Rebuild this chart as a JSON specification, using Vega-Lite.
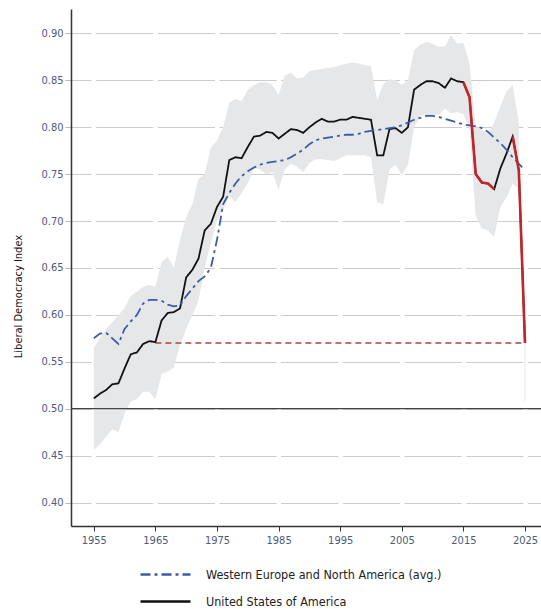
{
  "$schema": "https://vega.github.io/schema/vega-lite/v6.json",
  "width": 470,
  "height": 517,
  "autosize": {"type": "none"},
  "padding": {"left": 71, "top": 9, "right": 0, "bottom": 83},
  "background": "white",
  "config": {
    "view": {"stroke": null},
    "font": "DejaVu Sans Condensed"
  },
  "datasets": {
    "band": [
      {"year": 1955, "lo": 0.456, "hi": 0.565},
      {"year": 1956, "lo": 0.462, "hi": 0.575},
      {"year": 1957, "lo": 0.470, "hi": 0.585},
      {"year": 1958, "lo": 0.478, "hi": 0.592},
      {"year": 1959, "lo": 0.475, "hi": 0.600},
      {"year": 1960, "lo": 0.495, "hi": 0.607},
      {"year": 1961, "lo": 0.508, "hi": 0.620},
      {"year": 1962, "lo": 0.510, "hi": 0.625},
      {"year": 1963, "lo": 0.518, "hi": 0.630},
      {"year": 1964, "lo": 0.518, "hi": 0.632},
      {"year": 1965, "lo": 0.510, "hi": 0.630},
      {"year": 1966, "lo": 0.537, "hi": 0.656},
      {"year": 1967, "lo": 0.540, "hi": 0.662},
      {"year": 1968, "lo": 0.544, "hi": 0.650},
      {"year": 1969, "lo": 0.568, "hi": 0.680},
      {"year": 1970, "lo": 0.585, "hi": 0.704},
      {"year": 1971, "lo": 0.600, "hi": 0.718},
      {"year": 1972, "lo": 0.615, "hi": 0.745},
      {"year": 1973, "lo": 0.650, "hi": 0.750},
      {"year": 1974, "lo": 0.677, "hi": 0.778},
      {"year": 1975, "lo": 0.700, "hi": 0.786},
      {"year": 1976, "lo": 0.712, "hi": 0.800},
      {"year": 1977, "lo": 0.727, "hi": 0.826},
      {"year": 1978, "lo": 0.720, "hi": 0.830},
      {"year": 1979, "lo": 0.730, "hi": 0.828},
      {"year": 1980, "lo": 0.740, "hi": 0.840},
      {"year": 1981, "lo": 0.757, "hi": 0.845},
      {"year": 1982, "lo": 0.755, "hi": 0.848},
      {"year": 1983, "lo": 0.750, "hi": 0.848},
      {"year": 1984, "lo": 0.752, "hi": 0.845},
      {"year": 1985, "lo": 0.733, "hi": 0.834},
      {"year": 1986, "lo": 0.755, "hi": 0.855},
      {"year": 1987, "lo": 0.761, "hi": 0.858},
      {"year": 1988, "lo": 0.758, "hi": 0.852},
      {"year": 1989, "lo": 0.752, "hi": 0.853},
      {"year": 1990, "lo": 0.762, "hi": 0.860},
      {"year": 1991, "lo": 0.766, "hi": 0.861},
      {"year": 1992, "lo": 0.766, "hi": 0.862},
      {"year": 1993, "lo": 0.765, "hi": 0.863},
      {"year": 1994, "lo": 0.764, "hi": 0.864},
      {"year": 1995, "lo": 0.767, "hi": 0.866},
      {"year": 1996, "lo": 0.770, "hi": 0.868},
      {"year": 1997, "lo": 0.770, "hi": 0.869},
      {"year": 1998, "lo": 0.770, "hi": 0.868},
      {"year": 1999, "lo": 0.770, "hi": 0.866},
      {"year": 2000, "lo": 0.768, "hi": 0.865},
      {"year": 2001, "lo": 0.720, "hi": 0.829},
      {"year": 2002, "lo": 0.718, "hi": 0.846},
      {"year": 2003, "lo": 0.755, "hi": 0.851},
      {"year": 2004, "lo": 0.760, "hi": 0.850},
      {"year": 2005, "lo": 0.749, "hi": 0.845},
      {"year": 2006, "lo": 0.760, "hi": 0.850},
      {"year": 2007, "lo": 0.800, "hi": 0.882},
      {"year": 2008, "lo": 0.812, "hi": 0.888},
      {"year": 2009, "lo": 0.813, "hi": 0.891},
      {"year": 2010, "lo": 0.813, "hi": 0.889},
      {"year": 2011, "lo": 0.813, "hi": 0.886},
      {"year": 2012, "lo": 0.820, "hi": 0.886},
      {"year": 2013, "lo": 0.815, "hi": 0.898},
      {"year": 2014, "lo": 0.816, "hi": 0.889},
      {"year": 2015, "lo": 0.814, "hi": 0.890},
      {"year": 2016, "lo": 0.798, "hi": 0.868},
      {"year": 2017, "lo": 0.705, "hi": 0.800},
      {"year": 2018, "lo": 0.692, "hi": 0.797},
      {"year": 2019, "lo": 0.690, "hi": 0.793},
      {"year": 2020, "lo": 0.683, "hi": 0.805},
      {"year": 2021, "lo": 0.715, "hi": 0.822},
      {"year": 2022, "lo": 0.725, "hi": 0.838},
      {"year": 2023, "lo": 0.740, "hi": 0.845},
      {"year": 2024, "lo": 0.735, "hi": 0.805}
    ],
    "lines": [
      {"series": "United States of America", "year": 1955, "value": 0.511},
      {"series": "United States of America", "year": 1956, "value": 0.516},
      {"series": "United States of America", "year": 1957, "value": 0.520},
      {"series": "United States of America", "year": 1958, "value": 0.526},
      {"series": "United States of America", "year": 1959, "value": 0.527},
      {"series": "United States of America", "year": 1960, "value": 0.543},
      {"series": "United States of America", "year": 1961, "value": 0.558},
      {"series": "United States of America", "year": 1962, "value": 0.560},
      {"series": "United States of America", "year": 1963, "value": 0.569},
      {"series": "United States of America", "year": 1964, "value": 0.572},
      {"series": "United States of America", "year": 1965, "value": 0.571},
      {"series": "United States of America", "year": 1966, "value": 0.594},
      {"series": "United States of America", "year": 1967, "value": 0.602},
      {"series": "United States of America", "year": 1968, "value": 0.603},
      {"series": "United States of America", "year": 1969, "value": 0.607},
      {"series": "United States of America", "year": 1970, "value": 0.640},
      {"series": "United States of America", "year": 1971, "value": 0.648},
      {"series": "United States of America", "year": 1972, "value": 0.660},
      {"series": "United States of America", "year": 1973, "value": 0.690},
      {"series": "United States of America", "year": 1974, "value": 0.697},
      {"series": "United States of America", "year": 1975, "value": 0.715},
      {"series": "United States of America", "year": 1976, "value": 0.726},
      {"series": "United States of America", "year": 1977, "value": 0.765},
      {"series": "United States of America", "year": 1978, "value": 0.768},
      {"series": "United States of America", "year": 1979, "value": 0.767},
      {"series": "United States of America", "year": 1980, "value": 0.779},
      {"series": "United States of America", "year": 1981, "value": 0.790},
      {"series": "United States of America", "year": 1982, "value": 0.791},
      {"series": "United States of America", "year": 1983, "value": 0.795},
      {"series": "United States of America", "year": 1984, "value": 0.794},
      {"series": "United States of America", "year": 1985, "value": 0.788},
      {"series": "United States of America", "year": 1986, "value": 0.793},
      {"series": "United States of America", "year": 1987, "value": 0.798},
      {"series": "United States of America", "year": 1988, "value": 0.797},
      {"series": "United States of America", "year": 1989, "value": 0.794},
      {"series": "United States of America", "year": 1990, "value": 0.800},
      {"series": "United States of America", "year": 1991, "value": 0.805},
      {"series": "United States of America", "year": 1992, "value": 0.809},
      {"series": "United States of America", "year": 1993, "value": 0.806},
      {"series": "United States of America", "year": 1994, "value": 0.806},
      {"series": "United States of America", "year": 1995, "value": 0.808},
      {"series": "United States of America", "year": 1996, "value": 0.808},
      {"series": "United States of America", "year": 1997, "value": 0.811},
      {"series": "United States of America", "year": 1998, "value": 0.810},
      {"series": "United States of America", "year": 1999, "value": 0.809},
      {"series": "United States of America", "year": 2000, "value": 0.808},
      {"series": "United States of America", "year": 2001, "value": 0.770},
      {"series": "United States of America", "year": 2002, "value": 0.770},
      {"series": "United States of America", "year": 2003, "value": 0.798},
      {"series": "United States of America", "year": 2004, "value": 0.799},
      {"series": "United States of America", "year": 2005, "value": 0.794},
      {"series": "United States of America", "year": 2006, "value": 0.800},
      {"series": "United States of America", "year": 2007, "value": 0.840},
      {"series": "United States of America", "year": 2008, "value": 0.845},
      {"series": "United States of America", "year": 2009, "value": 0.849},
      {"series": "United States of America", "year": 2010, "value": 0.849},
      {"series": "United States of America", "year": 2011, "value": 0.847},
      {"series": "United States of America", "year": 2012, "value": 0.842},
      {"series": "United States of America", "year": 2013, "value": 0.852},
      {"series": "United States of America", "year": 2014, "value": 0.849},
      {"series": "United States of America", "year": 2015, "value": 0.848},
      {"series": "United States of America", "year": 2016, "value": 0.832},
      {"series": "United States of America", "year": 2017, "value": 0.750},
      {"series": "United States of America", "year": 2018, "value": 0.741},
      {"series": "United States of America", "year": 2019, "value": 0.740},
      {"series": "United States of America", "year": 2020, "value": 0.734},
      {"series": "United States of America", "year": 2021, "value": 0.756},
      {"series": "United States of America", "year": 2022, "value": 0.772},
      {"series": "United States of America", "year": 2023, "value": 0.790},
      {"series": "United States of America", "year": 2024, "value": 0.754},
      {"series": "United States of America", "year": 2025, "value": 0.570},
      {"series": "Western Europe and North America (avg.)", "year": 1955, "value": 0.575},
      {"series": "Western Europe and North America (avg.)", "year": 1956, "value": 0.580},
      {"series": "Western Europe and North America (avg.)", "year": 1957, "value": 0.581},
      {"series": "Western Europe and North America (avg.)", "year": 1958, "value": 0.575},
      {"series": "Western Europe and North America (avg.)", "year": 1959, "value": 0.569},
      {"series": "Western Europe and North America (avg.)", "year": 1960, "value": 0.585},
      {"series": "Western Europe and North America (avg.)", "year": 1961, "value": 0.593},
      {"series": "Western Europe and North America (avg.)", "year": 1962, "value": 0.600},
      {"series": "Western Europe and North America (avg.)", "year": 1963, "value": 0.612},
      {"series": "Western Europe and North America (avg.)", "year": 1964, "value": 0.616},
      {"series": "Western Europe and North America (avg.)", "year": 1965, "value": 0.616},
      {"series": "Western Europe and North America (avg.)", "year": 1966, "value": 0.615},
      {"series": "Western Europe and North America (avg.)", "year": 1967, "value": 0.611},
      {"series": "Western Europe and North America (avg.)", "year": 1968, "value": 0.609},
      {"series": "Western Europe and North America (avg.)", "year": 1969, "value": 0.610},
      {"series": "Western Europe and North America (avg.)", "year": 1970, "value": 0.620},
      {"series": "Western Europe and North America (avg.)", "year": 1971, "value": 0.628},
      {"series": "Western Europe and North America (avg.)", "year": 1972, "value": 0.636},
      {"series": "Western Europe and North America (avg.)", "year": 1973, "value": 0.641},
      {"series": "Western Europe and North America (avg.)", "year": 1974, "value": 0.650},
      {"series": "Western Europe and North America (avg.)", "year": 1975, "value": 0.680},
      {"series": "Western Europe and North America (avg.)", "year": 1976, "value": 0.718},
      {"series": "Western Europe and North America (avg.)", "year": 1977, "value": 0.730},
      {"series": "Western Europe and North America (avg.)", "year": 1978, "value": 0.740},
      {"series": "Western Europe and North America (avg.)", "year": 1979, "value": 0.748},
      {"series": "Western Europe and North America (avg.)", "year": 1980, "value": 0.753},
      {"series": "Western Europe and North America (avg.)", "year": 1981, "value": 0.757},
      {"series": "Western Europe and North America (avg.)", "year": 1982, "value": 0.760},
      {"series": "Western Europe and North America (avg.)", "year": 1983, "value": 0.762},
      {"series": "Western Europe and North America (avg.)", "year": 1984, "value": 0.763},
      {"series": "Western Europe and North America (avg.)", "year": 1985, "value": 0.764},
      {"series": "Western Europe and North America (avg.)", "year": 1986, "value": 0.765},
      {"series": "Western Europe and North America (avg.)", "year": 1987, "value": 0.768},
      {"series": "Western Europe and North America (avg.)", "year": 1988, "value": 0.772},
      {"series": "Western Europe and North America (avg.)", "year": 1989, "value": 0.776},
      {"series": "Western Europe and North America (avg.)", "year": 1990, "value": 0.782},
      {"series": "Western Europe and North America (avg.)", "year": 1991, "value": 0.786},
      {"series": "Western Europe and North America (avg.)", "year": 1992, "value": 0.788},
      {"series": "Western Europe and North America (avg.)", "year": 1993, "value": 0.789},
      {"series": "Western Europe and North America (avg.)", "year": 1994, "value": 0.790},
      {"series": "Western Europe and North America (avg.)", "year": 1995, "value": 0.791},
      {"series": "Western Europe and North America (avg.)", "year": 1996, "value": 0.792},
      {"series": "Western Europe and North America (avg.)", "year": 1997, "value": 0.792},
      {"series": "Western Europe and North America (avg.)", "year": 1998, "value": 0.793},
      {"series": "Western Europe and North America (avg.)", "year": 1999, "value": 0.795},
      {"series": "Western Europe and North America (avg.)", "year": 2000, "value": 0.796},
      {"series": "Western Europe and North America (avg.)", "year": 2001, "value": 0.797},
      {"series": "Western Europe and North America (avg.)", "year": 2002, "value": 0.798},
      {"series": "Western Europe and North America (avg.)", "year": 2003, "value": 0.799},
      {"series": "Western Europe and North America (avg.)", "year": 2004, "value": 0.800},
      {"series": "Western Europe and North America (avg.)", "year": 2005, "value": 0.802},
      {"series": "Western Europe and North America (avg.)", "year": 2006, "value": 0.805},
      {"series": "Western Europe and North America (avg.)", "year": 2007, "value": 0.808},
      {"series": "Western Europe and North America (avg.)", "year": 2008, "value": 0.810},
      {"series": "Western Europe and North America (avg.)", "year": 2009, "value": 0.812},
      {"series": "Western Europe and North America (avg.)", "year": 2010, "value": 0.812},
      {"series": "Western Europe and North America (avg.)", "year": 2011, "value": 0.811},
      {"series": "Western Europe and North America (avg.)", "year": 2012, "value": 0.809},
      {"series": "Western Europe and North America (avg.)", "year": 2013, "value": 0.807},
      {"series": "Western Europe and North America (avg.)", "year": 2014, "value": 0.805},
      {"series": "Western Europe and North America (avg.)", "year": 2015, "value": 0.803},
      {"series": "Western Europe and North America (avg.)", "year": 2016, "value": 0.802},
      {"series": "Western Europe and North America (avg.)", "year": 2017, "value": 0.801},
      {"series": "Western Europe and North America (avg.)", "year": 2018, "value": 0.799},
      {"series": "Western Europe and North America (avg.)", "year": 2019, "value": 0.795},
      {"series": "Western Europe and North America (avg.)", "year": 2020, "value": 0.789},
      {"series": "Western Europe and North America (avg.)", "year": 2021, "value": 0.783},
      {"series": "Western Europe and North America (avg.)", "year": 2022, "value": 0.776},
      {"series": "Western Europe and North America (avg.)", "year": 2023, "value": 0.768},
      {"series": "Western Europe and North America (avg.)", "year": 2024, "value": 0.761},
      {"series": "Western Europe and North America (avg.)", "year": 2025, "value": 0.754}
    ]
  },
  "layer": [
    {
      "data": {"name": "band"},
      "mark": {"type": "area", "color": "#e6e7e9", "opacity": 1},
      "encoding": {
        "x": {
          "field": "year", "type": "quantitative",
          "scale": {"domain": [1951.3, 2027.6], "nice": false, "zero": false},
          "axis": {
            "values": [1955, 1965, 1975, 1985, 1995, 2005, 2015, 2025],
            "format": "d", "title": null, "grid": false,
            "labelColor": "#4e5a78", "labelFontSize": 11, "labelPadding": 3,
            "tickColor": "#333333", "tickSize": 5, "tickWidth": 1,
            "domainColor": "#333333", "domainWidth": 1.5
          }
        },
        "y": {
          "field": "lo", "type": "quantitative",
          "scale": {"domain": [0.375, 0.926], "nice": false, "zero": false},
          "axis": {
            "values": [0.4, 0.45, 0.5, 0.55, 0.6, 0.65, 0.7, 0.75, 0.8, 0.85, 0.9],
            "format": ".2f",
            "grid": true, "gridColor": "#cccccc", "gridWidth": 1,
            "gridDash": [57.2, 4.5], "gridDashOffset": 37.15,
            "labelColor": "#4e5a78", "labelFontSize": 11, "labelPadding": 2,
            "tickColor": "#bbbbbb", "tickSize": 6,
            "domainColor": "#333333", "domainWidth": 1.5,
            "title": "Liberal Democracy Index",
            "titleX": -48, "titleY": 287, "titleFontSize": 11,
            "titleFontWeight": "normal", "titleColor": "#111111"
          }
        },
        "y2": {"field": "hi"}
      }
    },
    {
      "data": {"values": [{"year": 2025, "lo": 0.508, "hi": 0.572}]},
      "mark": {"type": "rule", "color": "#ececec", "strokeWidth": 1.2},
      "encoding": {
        "x": {"field": "year", "type": "quantitative"},
        "y": {"field": "lo", "type": "quantitative"},
        "y2": {"field": "hi"}
      }
    },
    {
      "data": {"values": [{"v": 0.5}]},
      "mark": {"type": "rule", "color": "#444444", "strokeWidth": 1.3},
      "encoding": {"y": {"field": "v", "type": "quantitative"}}
    },
    {
      "data": {"values": [{"x1": 1965, "x2": 2025, "v": 0.57}]},
      "mark": {"type": "rule", "color": "#a8453f", "strokeWidth": 1.5, "strokeDash": [6, 4]},
      "encoding": {
        "x": {"field": "x1", "type": "quantitative"},
        "x2": {"field": "x2"},
        "y": {"field": "v", "type": "quantitative"}
      }
    },
    {
      "data": {"name": "lines"},
      "mark": {"type": "line", "strokeWidth": 1.8},
      "encoding": {
        "x": {"field": "year", "type": "quantitative"},
        "y": {"field": "value", "type": "quantitative"},
        "color": {
          "field": "series", "type": "nominal",
          "scale": {
            "domain": ["Western Europe and North America (avg.)", "United States of America"],
            "range": ["#3b5ca6", "#111111"]
          },
          "legend": {
            "title": null, "orient": "none", "legendX": 88, "legendY": 559,
            "direction": "vertical",
            "symbolType": "M-5,0H5", "symbolSize": 100, "symbolStrokeWidth": 2.5,
            "labelFontSize": 12.5, "labelColor": "#222222", "labelOffset": 34,
            "rowPadding": 14, "labelLimit": 400
          }
        },
        "strokeDash": {
          "field": "series", "type": "nominal",
          "scale": {
            "domain": ["Western Europe and North America (avg.)", "United States of America"],
            "range": [[10, 4, 3, 4], [1, 0]]
          },
          "legend": {
            "title": null, "orient": "none", "legendX": 88, "legendY": 559,
            "direction": "vertical",
            "symbolType": "M-5,0H5", "symbolSize": 100, "symbolStrokeWidth": 2.5,
            "labelFontSize": 12.5, "labelColor": "#222222", "labelOffset": 34,
            "rowPadding": 14, "labelLimit": 400
          }
        }
      }
    },
    {
      "data": {"name": "lines"},
      "transform": [{"filter": "datum.series === 'United States of America' && datum.year >= 2015 && datum.year <= 2020"}],
      "mark": {"type": "line", "color": "#c0272d", "strokeWidth": 2.6},
      "encoding": {
        "x": {"field": "year", "type": "quantitative"},
        "y": {"field": "value", "type": "quantitative"}
      }
    },
    {
      "data": {"name": "lines"},
      "transform": [{"filter": "datum.series === 'United States of America' && datum.year >= 2023"}],
      "mark": {"type": "line", "color": "#c0272d", "strokeWidth": 2.6},
      "encoding": {
        "x": {"field": "year", "type": "quantitative"},
        "y": {"field": "value", "type": "quantitative"}
      }
    }
  ]
}
